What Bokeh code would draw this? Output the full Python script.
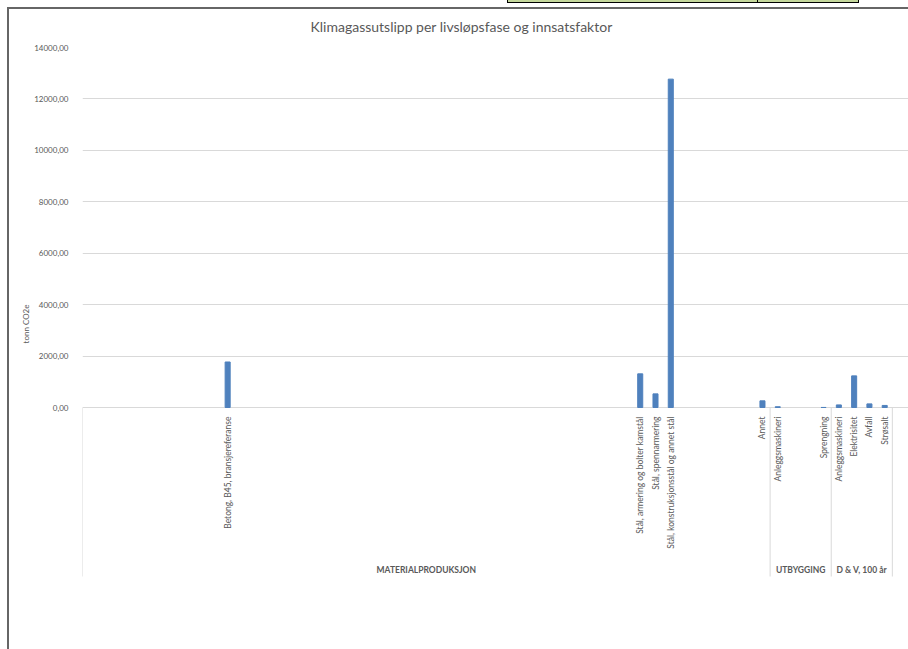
from bokeh.plotting import figure
from bokeh.models import Range1d, FixedTicker, ColumnDataSource
from bokeh.core.properties import value
from bokeh.embed import file_html
from bokeh.resources import INLINE

# --- data -------------------------------------------------------------
title_text = "Klimagassutslipp per livsløpsfase og innsatsfaktor"
y_axis_title = "tonn CO2e"

group_names = ["MATERIALPRODUKSJON", "UTBYGGING", "D & V, 100 år"]

materialproduksjon_labels = (
    [""] * 9
    + ["Betong, B45, bransjereferanse"]
    + [""] * 26
    + ["Stål, armering og bolter kamstål",
       "Stål, spennarmering",
       "Stål, konstruksjonsstål og annet stål"]
    + [""] * 5
    + ["Annet"]
)
materialproduksjon_values = (
    [None] * 9
    + [1770]
    + [None] * 26
    + [1310, 530, 12770]
    + [None] * 5
    + [260]
)

utbygging_labels = ["Anleggsmaskineri", "", "", "Sprengning"]
utbygging_values = [30, None, None, 2]

dv_labels = ["Anleggsmaskineri", "Elektrisitet", "Avfall", "Strøsalt"]
dv_values = [100, 1230, 140, 80]

y_ticks = [0, 2000, 4000, 6000, 8000, 10000, 12000, 14000]

# --- assemble categories ---------------------------------------------
groups = [
    (group_names[0], materialproduksjon_labels, materialproduksjon_values),
    (group_names[1], utbygging_labels, utbygging_values),
    (group_names[2], dv_labels, dv_values),
]

bar_x, bar_top = [], []
lab_x, lab_text = [], []
sep_x = [0.0]
grp_x, grp_text = [], []
pos = 0
for gname, labels, vals in groups:
    start = pos
    for lab, v in zip(labels, vals):
        c = pos + 0.5
        if v is not None:
            bar_x.append(c)
            bar_top.append(v)
        if lab:
            lab_x.append(c)
            lab_text.append(lab)
        pos += 1
    sep_x.append(float(pos))
    grp_x.append((start + pos) / 2)
    grp_text.append(gname)

# --- figure geometry --------------------------------------------------
FONT = "Lato"
GREY = "#595959"
GRID = "#D9D9D9"

fig_w, fig_h = 908, 649
border_left, border_top = 82, 47
frame_h = 553        # plot area incl. category band
zero_px = 360        # distance from top of plot area to the zero line
y_top = 14000
y_bottom = y_top - y_top * frame_h / zero_px
units_per_px = y_top / zero_px

cat_px = 15.28
frame_w = fig_w - border_left
x_end = frame_w / cat_px

# chart-area frame (left and top edges) and the worksheet cells peeking
# in above it, painted as CSS background layers behind a transparent canvas
def solid(c):
    return f"linear-gradient({c},{c})"

page_layers = [
    (solid("#000000"), "507px 0px", "1px 3px"),
    (solid("#000000"), "757px 0px", "1px 3px"),
    (solid("#000000"), "858px 0px", "1px 3px"),
    (solid("#000000"), "507px 2px", "352px 1px"),
    (solid("#C4D79B"), "507px 0px", "352px 2px"),
    (solid("#666666"), "7px 7px", "2px 642px"),
    (solid("#666666"), "7px 7px", "901px 2px"),
]
host_styles = {
    "background-color": "white",
    "background-image": ", ".join(l[0] for l in page_layers),
    "background-position": ", ".join(l[1] for l in page_layers),
    "background-size": ", ".join(l[2] for l in page_layers),
    "background-repeat": "no-repeat",
}

p = figure(
    width=fig_w, height=fig_h,
    x_range=Range1d(0, x_end), y_range=Range1d(y_bottom, y_top),
    output_backend="svg", toolbar_location=None,
    x_axis_location=None,
    min_border_left=border_left, min_border_right=0,
    min_border_top=border_top, min_border_bottom=fig_h - border_top - frame_h,
    styles=host_styles,
)
p.outline_line_color = None
p.background_fill_color = "white"
p.border_fill_color = None

p.title.text = title_text
p.title.align = "left"
p.title.offset = 228
p.title.text_font = FONT
p.title.text_font_size = "14px"
p.title.text_font_style = "normal"
p.title.text_color = GREY
p.title.standoff = 25

# y axis
yax = p.yaxis[0]
yax.ticker = FixedTicker(ticks=y_ticks)
yax.major_label_overrides = {t: f"{t},00" for t in y_ticks}
yax.axis_line_color = None
yax.major_tick_line_color = None
yax.minor_tick_line_color = None
yax.major_label_standoff = 8
yax.major_label_text_font = FONT
yax.major_label_text_font_size = "8px"
yax.major_label_text_color = GREY
yax.axis_label = y_axis_title
yax.axis_label_text_font = FONT
yax.axis_label_text_font_size = "8px"
yax.axis_label_text_font_style = "normal"
yax.axis_label_text_color = GREY
yax.axis_label_standoff = 0

p.ygrid.ticker = FixedTicker(ticks=y_ticks)
p.ygrid.grid_line_color = GRID
p.xgrid.grid_line_color = None

# bars
p.vbar(x="x", top="top", bottom=0, width=0.33, color="#4F81BD",
       source=ColumnDataSource(dict(x=bar_x, top=bar_top)))

# group separators in the category band
sep_bottom = -169 * units_per_px
p.segment(x0=sep_x, y0=[0] * len(sep_x), x1=sep_x, y1=[sep_bottom] * len(sep_x),
          line_color=GRID, line_width=1)

# category labels (vertical, reading upwards)
p.text(x=lab_x, y=[-9 * units_per_px] * len(lab_x), text=lab_text,
       angle=1.5707963, text_align="right", text_baseline="middle",
       text_font=value(FONT), text_font_size="8.5px", text_color=GREY)

# group labels
p.text(x=grp_x, y=[-162 * units_per_px] * len(grp_x), text=grp_text,
       text_align="center", text_baseline="middle",
       text_font=value(FONT), text_font_size="8.5px", text_font_style="bold",
       text_color=GREY)

open("out.html", "w").write(file_html(p, INLINE))
